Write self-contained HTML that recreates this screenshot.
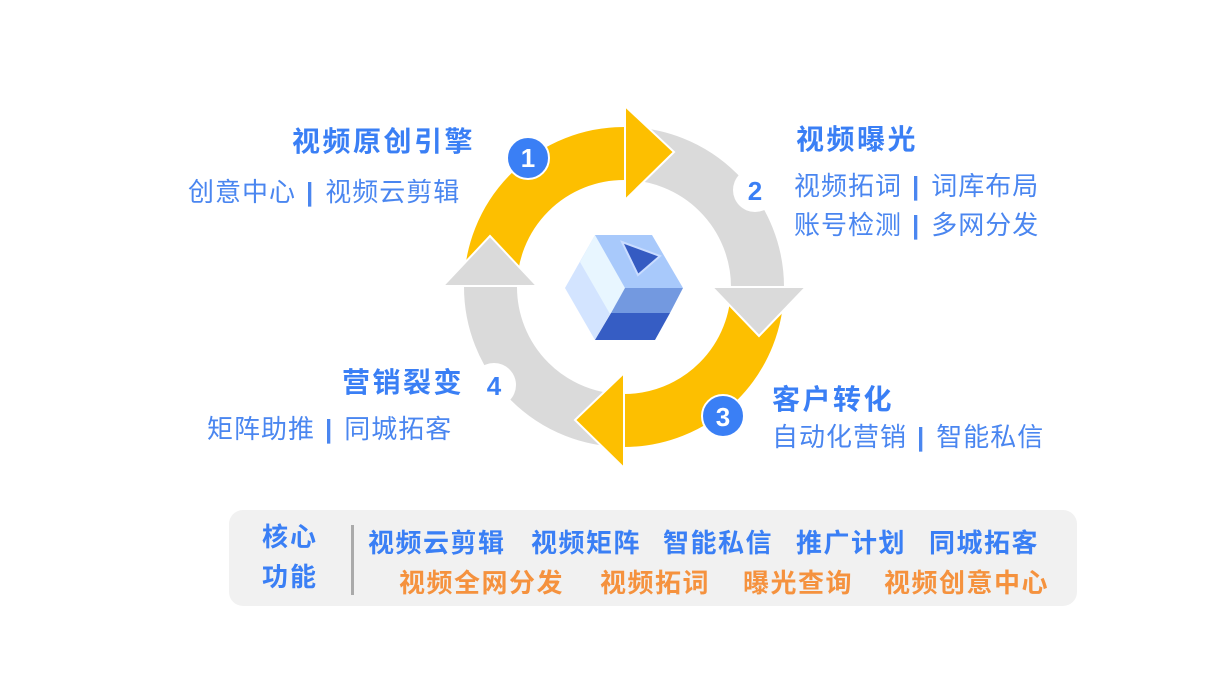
<!DOCTYPE html>
<html><head><meta charset="utf-8"><style>
body{margin:0;width:1231px;height:681px;background:#fff;position:relative;overflow:hidden;font-family:"Liberation Sans","Noto Sans CJK SC",sans-serif}
.t{position:absolute;white-space:nowrap;line-height:1;color:#3a7ff5}
.h{font-size:28px;font-weight:bold;letter-spacing:2.5px}
.s{font-size:26px;letter-spacing:1px;color:#4a86f0}
.s i{font-style:normal;display:inline-block;margin:0 11px 0 10px;font-weight:bold}
.b{font-size:26px;font-weight:bold;letter-spacing:1.5px}
.o{color:#f5923e}
</style></head><body>
<svg width="1231" height="681" style="position:absolute;left:0;top:0">
<g fill="none" stroke-width="53">
<path d="M490.5 287 A133.5 133.5 0 0 1 624 153.5" stroke="#fdbf00"/>
<path d="M624 153.5 A133.5 133.5 0 0 1 757.5 287" stroke="#dadada"/>
<path d="M757.5 287 A133.5 133.5 0 0 1 624 420.5" stroke="#fdbf00"/>
<path d="M624 420.5 A133.5 133.5 0 0 1 490.5 287" stroke="#dadada"/>
</g>
<g stroke="#fff" stroke-width="2">
<polygon points="625,106 625,200 674,152" fill="#fdbf00"/>
<polygon points="712,287 806,287 759,336" fill="#dadada"/>
<polygon points="624,373 624,468 575,420" fill="#fdbf00"/>
<polygon points="443,286 537,286 490,236" fill="#dadada"/>
</g>
<circle cx="528" cy="158" r="21" fill="#3a7ff5" stroke="#fff" stroke-width="2"/>
<circle cx="755" cy="190" r="22" fill="#fff"/>
<circle cx="723" cy="416" r="21" fill="#3a7ff5" stroke="#fff" stroke-width="2"/>
<circle cx="494" cy="385" r="22" fill="#fff"/>
<g font-family="Liberation Sans, sans-serif" font-weight="bold" font-size="26" text-anchor="middle">
<text x="528" y="167" fill="#fff">1</text>
<text x="755" y="200" fill="#3a7ff5">2</text>
<text x="723" y="426" fill="#fff">3</text>
<text x="494" y="395" fill="#3a7ff5">4</text>
</g>
<polygon points="565,288 595,235 625,288 595,340" fill="#d3e4ff"/>
<polygon points="580,262 595,235 625,288 610,314" fill="#e8f6ff"/>
<polygon points="595,235 652,235 683,288 625,288" fill="#a8c9fb"/>
<polygon points="625,288 683,288 670,313 611,313" fill="#7399e0"/>
<polygon points="611,313 670,313 655,340 595,340" fill="#365dc4"/>
<polygon points="622,242 660,256 638,275" fill="#355bc2" stroke="#c9dcff" stroke-width="2"/>
</svg>
<div class="t h" style="right:756px;top:128px">视频原创引擎</div>
<div class="t s" style="left:188px;top:179px">创意中心<i>|</i>视频云剪辑</div>
<div class="t h" style="left:796px;top:126px">视频曝光</div>
<div class="t s" style="left:794px;top:173px">视频拓词<i>|</i>词库布局</div>
<div class="t s" style="left:794px;top:212px">账号检测<i>|</i>多网分发</div>
<div class="t h" style="left:772px;top:386px">客户转化</div>
<div class="t s" style="left:772px;top:424px">自动化营销<i>|</i>智能私信</div>
<div class="t h" style="right:767px;top:369px">营销裂变</div>
<div class="t s" style="left:207px;top:416px">矩阵助推<i>|</i>同城拓客</div>
<div style="position:absolute;left:229px;top:510px;width:848px;height:96px;background:#f1f1f1;border-radius:14px"></div>
<div style="position:absolute;left:351px;top:525px;width:3px;height:70px;background:#aaa"></div>
<div class="t" style="left:262px;top:524px;font-size:26px;font-weight:bold;letter-spacing:2px">核心</div>
<div class="t" style="left:262px;top:564px;font-size:26px;font-weight:bold;letter-spacing:2px">功能</div>
<div class="t b" style="left:368px;top:530px">视频云剪辑</div>
<div class="t b" style="left:531px;top:530px">视频矩阵</div>
<div class="t b" style="left:663px;top:530px">智能私信</div>
<div class="t b" style="left:796px;top:530px">推广计划</div>
<div class="t b" style="left:929px;top:530px">同城拓客</div>
<div class="t b o" style="left:399px;top:570px">视频全网分发</div>
<div class="t b o" style="left:600px;top:570px">视频拓词</div>
<div class="t b o" style="left:743px;top:570px">曝光查询</div>
<div class="t b o" style="left:884px;top:570px">视频创意中心</div>
</body></html>
